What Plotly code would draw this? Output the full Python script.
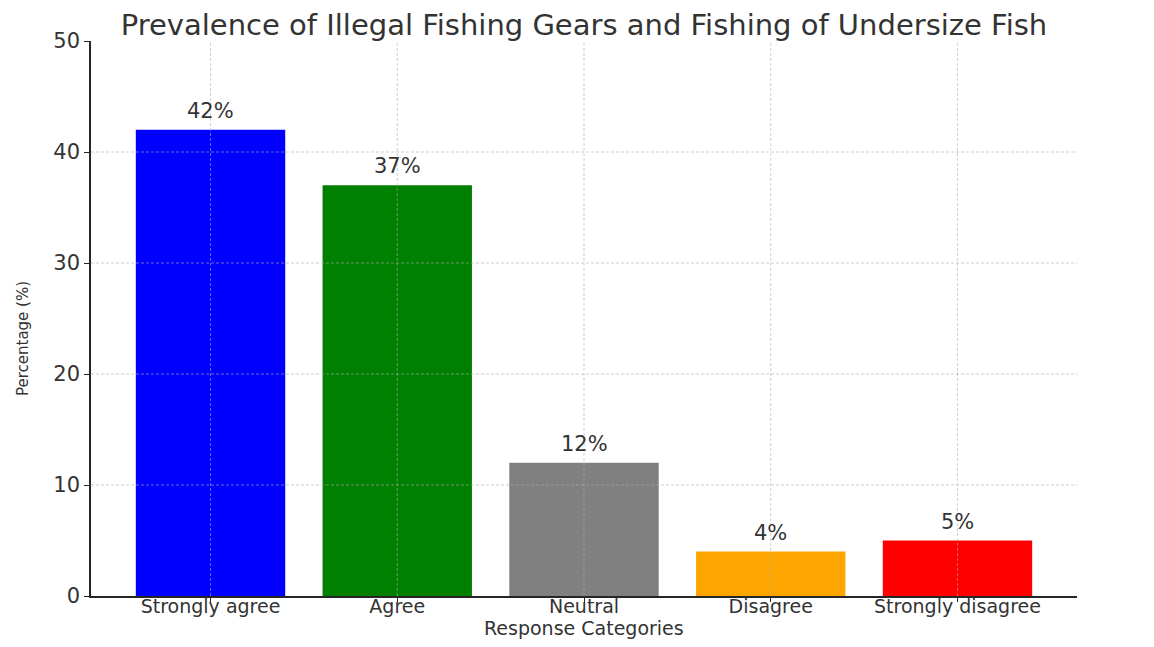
import plotly.graph_objects as go

categories = ["Strongly agree", "Agree", "Neutral", "Disagree", "Strongly disagree"]
percentages = [42, 37, 12, 4, 5]
bar_colors = ["blue", "green", "gray", "orange", "red"]
y_ticks = [0, 10, 20, 30, 40, 50]

FONT = "DejaVu Sans, Verdana, sans-serif"
TXT = "#333333"
AX = "#262626"
GRID = "rgba(175,175,175,0.6)"

# page is shown with an 8px body margin, so the figure is sized/offset to fit
W, H = 1138, 631
L, R, T, B = 83, 69, 33, 43

fig = go.Figure()
fig.add_trace(go.Bar(
    x=list(range(len(categories))),
    y=percentages,
    marker=dict(color=bar_colors, line=dict(width=0)),
    width=0.8,
    hoverinfo="x+y",
))

# value labels above the bars
annotations = []
for i, v in enumerate(percentages):
    annotations.append(dict(x=i, y=v, xref="x", yref="y", text=f"{v}%",
                            showarrow=False, xanchor="center", yanchor="bottom", yshift=5,
                            font=dict(family=FONT, size=21, color=TXT)))
# axis titles
annotations.append(dict(x=0.5, y=0, xref="paper", yref="paper", text="Response Categories",
                        showarrow=False, xanchor="center", yanchor="middle", yshift=-32,
                        borderpad=0,
                        font=dict(family=FONT, size=19, color=TXT)))
annotations.append(dict(x=0, y=0.463, xref="paper", yref="paper", text="Percentage (%)",
                        showarrow=False, xanchor="center", yanchor="middle", xshift=-68,
                        textangle=-90,
                        font=dict(family=FONT, size=15, color=TXT)))

# grid lines drawn above bars (as in the reference)
shapes = []
for i in range(len(categories)):
    shapes.append(dict(type="line", xref="x", yref="paper", x0=i, x1=i, y0=0, y1=1,
                       line=dict(color=GRID, width=1, dash="3px,2px"),
                       layer="above"))
for t in y_ticks[1:-1]:
    shapes.append(dict(type="line", xref="paper", yref="y", x0=0, x1=1, y0=t, y1=t,
                       line=dict(color=GRID, width=1, dash="3px,2px"),
                       layer="above"))

fig.update_layout(
    width=W, height=H,
    margin=dict(l=L, r=R, t=T, b=B, pad=0, autoexpand=False),
    paper_bgcolor="white", plot_bgcolor="white",
    showlegend=False,
    shapes=shapes,
    annotations=annotations,
    title=dict(text="Prevalence of Illegal Fishing Gears and Fishing of Undersize Fish",
               x=0.5, xref="paper", xanchor="center",
               y=1 - 17 / H, yref="container", yanchor="middle",
               font=dict(family=FONT, size=29, color=TXT)),
    xaxis=dict(
        range=[-0.64, len(categories) - 1 + 0.64],
        tickmode="array", tickvals=list(range(len(categories))), ticktext=categories,
        showgrid=False, zeroline=False, automargin=False,
        showline=True, linecolor=AX, linewidth=1.5,
        ticks="outside", ticklen=4, tickcolor=AX,
        ticklabelstandoff=-12,
        tickfont=dict(family=FONT, size=19, color=TXT),
    ),
    yaxis=dict(
        range=[0, 50],
        tickmode="array", tickvals=y_ticks,
        showgrid=False, zeroline=False, automargin=False,
        showline=True, linecolor=AX, linewidth=1.5,
        ticks="outside", ticklen=5, tickcolor=AX,
        tickfont=dict(family=FONT, size=21, color=TXT),
    ),
)

fig.write_html("out.html")
